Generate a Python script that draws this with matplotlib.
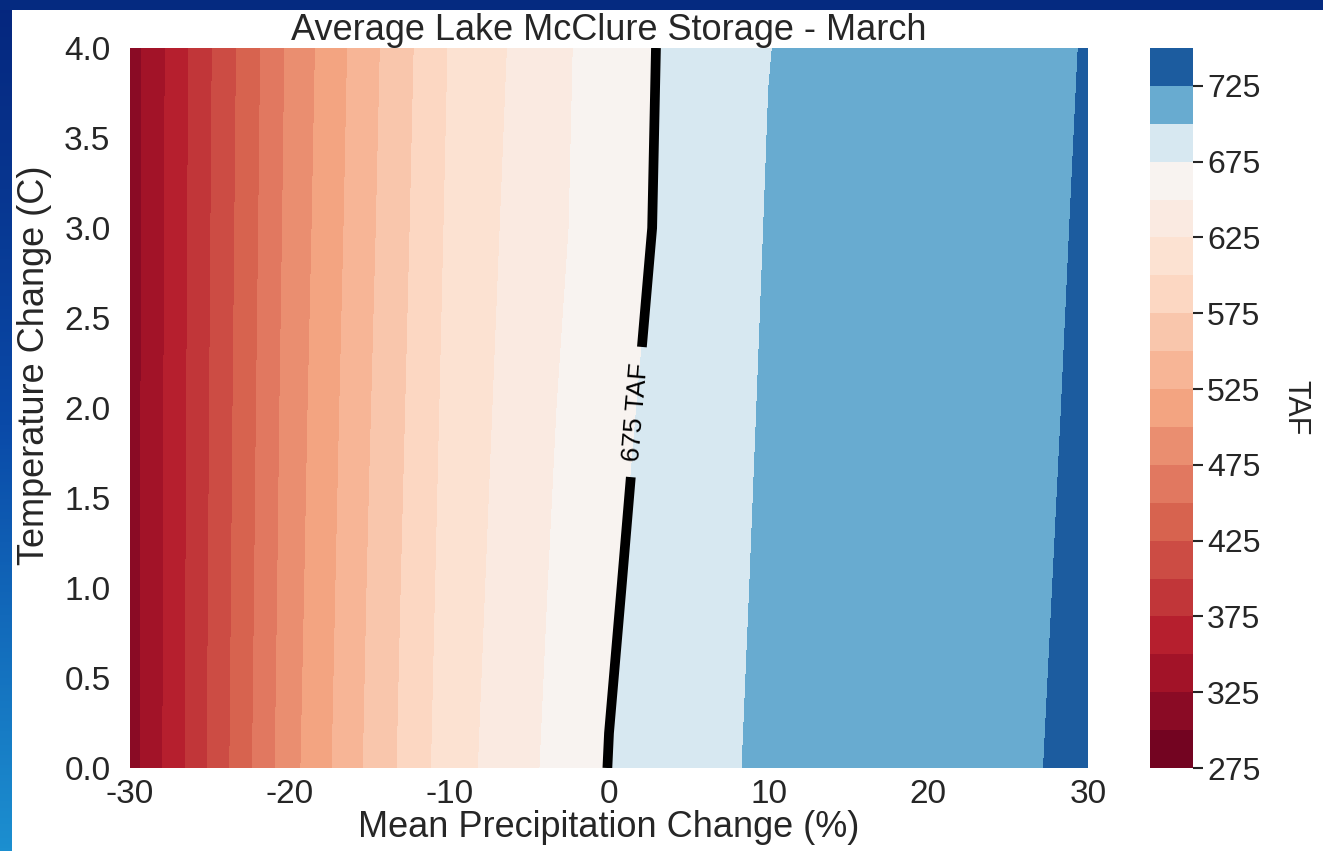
import numpy as np
import matplotlib
matplotlib.use("Agg")
import matplotlib.pyplot as plt
from matplotlib.colors import TwoSlopeNorm, LinearSegmentedColormap

plt.rcParams['font.family'] = ['Liberation Sans', 'DejaVu Sans']
plt.rcParams['axes.unicode_minus'] = False

# precipitation change (%) and temperature change (C)
precip = [-30, -25, -20, -15, -10, -5, 0, 5, 10, 15, 20, 25, 30]
temp = [0, 1, 2, 3, 4]

# average March storage (TAF), one row per temperature step
storage_t0 = [313, 403, 491, 555, 613, 646, 675.6, 690.2, 704.9, 710.7, 716.5, 722.3, 728.4]
storage_t1 = [313, 401.6, 488, 552, 610, 643, 672.5, 688.5, 703.6, 709.6, 715.6, 721.5, 727.8]
storage_t2 = [313, 400.3, 485.5, 548.5, 607, 640, 668.7, 686.9, 702.3, 708.5, 714.7, 720.8, 727.1]
storage_t3 = [313, 398.9, 482.5, 545, 604, 637, 663.0, 685.2, 701.0, 707.4, 713.8, 720.0, 726.5]
storage_t4 = [312.5, 397.5, 480, 542, 601, 634, 663.0, 683.4, 699.7, 706.4, 712.9, 719.3, 725.8]

levels = list(range(275, 751, 25))
cbar_ticks = list(range(275, 726, 50))
highlight = [675]

P, T = np.meshgrid(precip, temp)
Z = np.array([storage_t0, storage_t1, storage_t2, storage_t3, storage_t4])

fig = plt.figure(figsize=(13.23, 8.51), dpi=100)
fig.patch.set_facecolor('white')

# slide border (blue frame on top and left)
border = fig.add_axes([0, 0, 12 / 1323, 1])
grad = np.linspace(0, 1, 256).reshape(-1, 1)
slide_cmap = LinearSegmentedColormap.from_list('slide', ['#05267d', '#0a4aa8', '#1c8fd0'])
border.imshow(grad, aspect='auto', cmap=slide_cmap, extent=[0, 1, 0, 1])
border.axis('off')
top = fig.add_axes([0, 1 - 10 / 851, 1, 10 / 851])
top.set_facecolor('#052a80')
top.set_xticks([]); top.set_yticks([])
for s in top.spines.values():
    s.set_visible(False)

ax = fig.add_axes([130 / 1323, 83 / 851, 958 / 1323, 720 / 851])
norm = TwoSlopeNorm(vmin=275, vcenter=675, vmax=750)
cf = ax.contourf(P, T, Z, levels=levels, cmap='RdBu', norm=norm)
cs = ax.contour(P, T, Z, levels=highlight, colors='black', linewidths=7)
ax.clabel(cs, fmt='%d TAF', fontsize=19, manual=[(1.4, 1.98)], inline=True, inline_spacing=16)

ax.set_xlim(-30, 30)
ax.set_ylim(0, 4)
ax.set_xticks([-30, -20, -10, 0, 10, 20, 30])
ax.set_yticks(np.arange(0, 4.01, 0.5))
ax.set_yticklabels([f'{v:.1f}' for v in np.arange(0, 4.01, 0.5)])
ax.tick_params(length=0, labelsize=24, labelcolor='#262626', pad=14)
ax.tick_params(axis='x', pad=8)
for s in ax.spines.values():
    s.set_visible(False)
ax.set_title('Average Lake McClure Storage - March', fontsize=26, color='#262626', pad=4)
ax.set_xlabel('Mean Precipitation Change (%)', fontsize=26, color='#262626', labelpad=0)
ax.set_ylabel('Temperature Change (C)', fontsize=26, color='#262626', labelpad=9, y=0.56)

cax = fig.add_axes([1150 / 1323, 83 / 851, 43 / 1323, 720 / 851])
cbar = fig.colorbar(cf, cax=cax, ticks=cbar_ticks)
cbar.outline.set_visible(False)
cax.tick_params(length=7, width=1.5, color='#262626', labelsize=23, labelcolor='#262626', pad=3)
cbar.set_label('TAF', fontsize=22, rotation=270, color='#262626', labelpad=36)

fig.savefig('out.png', dpi=100, facecolor=fig.get_facecolor())
